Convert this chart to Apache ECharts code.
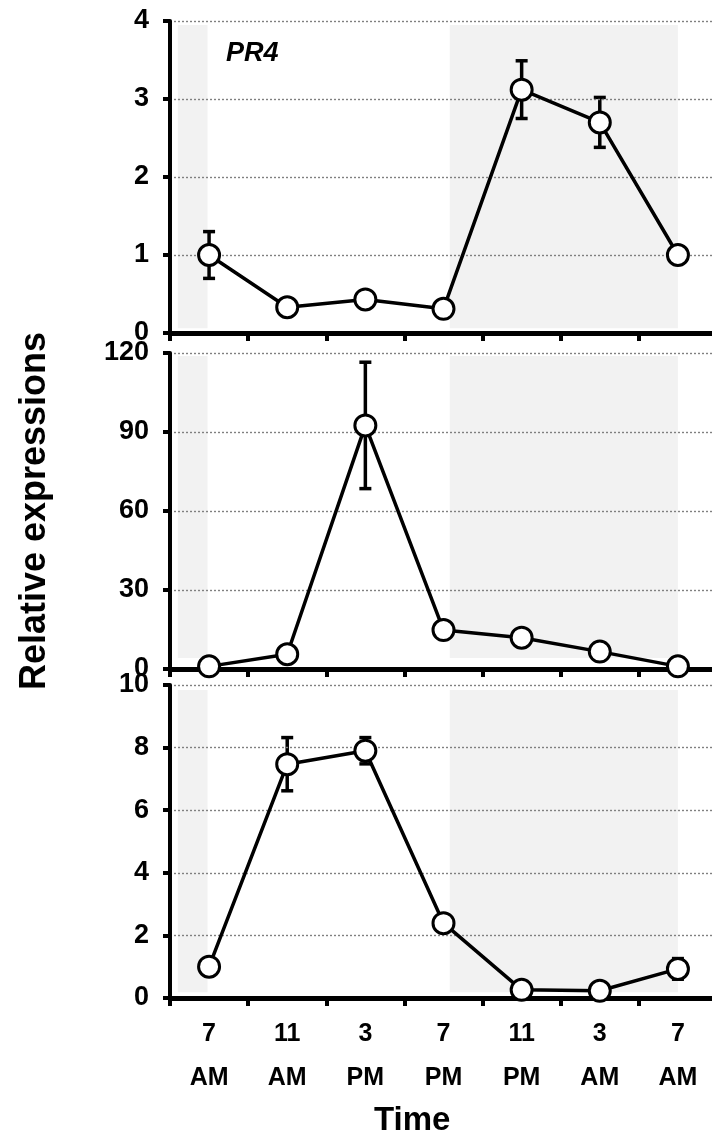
<!DOCTYPE html>
<html>
<head>
<meta charset="utf-8">
<script src="https://cdn.jsdelivr.net/npm/echarts@6/dist/echarts.min.js"></script>
<style>
  html, body { margin: 0; padding: 0; background: #fff; }
  #chart { width: 712px; height: 1142px; }
</style>
</head>
<body>
<div id="chart"></div>
<script>
// time points on the x axis
const timeLabels = ['7\nAM', '11\nAM', '3\nPM', '7\nPM', '11\nPM', '3\nAM', '7\nAM']

// gene names, one per panel
const genes = ['PR4', 'VSP2', 'RAB18']

// mean relative expression, one array per gene
const pr4Mean = [1.0, 0.33, 0.43, 0.31, 3.12, 2.70, 1.0]
const vsp2Mean = [1.0, 5.6, 92.5, 14.8, 11.9, 6.6, 1.0]
const rab18Mean = [1.0, 7.47, 7.9, 2.39, 0.26, 0.23, 0.93]

// error (+/-), 0 where no bar is drawn
const pr4Err = [0.3, 0, 0, 0, 0.37, 0.32, 0]
const vsp2Err = [0, 0, 24, 0, 0, 0, 0]
const rab18Err = [0, 0.85, 0.42, 0, 0, 0, 0.33]

// y axis ranges and steps
const yMax = [4, 120, 10]
const yStep = [1, 30, 2]

// dark periods, in units of time slots (0..7)
const darkSpans = [[0.1, 0.48], [3.58, 6.5]]
// vertical extent of the shading per panel [bottom, top]
const darkY = [[0.06, 3.95], [4.2, 118.9], [0.18, 9.84]]

const means = [pr4Mean, vsp2Mean, rab18Mean]
const errs = [pr4Err, vsp2Err, rab18Err]

const FONT = 'Liberation Sans, Arial, sans-serif'
const grids = [
  { left: 170, top: 21, width: 547, height: 312, outerBoundsMode: 'none' },
  { left: 170, top: 353, width: 547, height: 316, outerBoundsMode: 'none' },
  { left: 170, top: 685, width: 547, height: 313, outerBoundsMode: 'none' }
]

let xAxis = []
let yAxis = []
let series = []

genes.forEach((g, i) => {
  let last = i === genes.length - 1
  xAxis.push({
    type: 'category',
    gridIndex: i,
    data: timeLabels,
    boundaryGap: true,
    axisLine: { lineStyle: { color: '#000', width: 5 } },
    axisTick: { show: true, length: 8, lineStyle: { color: '#000', width: 4 } },
    axisLabel: {
      show: last,
      color: '#000',
      fontFamily: FONT,
      fontWeight: 'bold',
      fontSize: 25,
      lineHeight: 44,
      margin: 14
    },
    splitLine: { show: false },
    z: 5
  })
  xAxis.push({
    type: 'value',
    gridIndex: i,
    min: 0,
    max: 7,
    show: false
  })
  yAxis.push({
    type: 'value',
    gridIndex: i,
    min: 0,
    max: yMax[i],
    interval: yStep[i],
    name: i === 1 ? 'Relative expressions' : '',
    nameLocation: 'middle',
    nameRotate: 90,
    nameGap: 117,
    nameTextStyle: { color: '#000', fontFamily: FONT, fontWeight: 'bold', fontSize: 36 },
    axisLine: { show: true, lineStyle: { color: '#000', width: 4 } },
    axisTick: { show: true, length: 7, lineStyle: { color: '#000', width: 4 } },
    axisLabel: { color: '#000', fontFamily: FONT, fontWeight: 'bold', fontSize: 27, margin: 21 },
    splitLine: { show: true, lineStyle: { color: '#808080', width: 1.4, type: [2, 2] } },
    z: 5
  })

  // grey shading for the dark period
  series.push({
    type: 'custom',
    xAxisIndex: i * 2 + 1,
    yAxisIndex: i,
    silent: true,
    z: 0,
    data: darkSpans.map(s => [s[0], darkY[i][0], s[1], darkY[i][1]]),
    encode: { x: [0, 2], y: [1, 3] },
    renderItem (params, api) {
      let p0 = api.coord([api.value(0), api.value(3)])
      let p1 = api.coord([api.value(2), api.value(1)])
      return {
        type: 'rect',
        shape: { x: p0[0], y: p0[1], width: p1[0] - p0[0], height: p1[1] - p0[1] },
        style: { fill: '#f2f2f2' }
      }
    }
  })

  // error bars
  let barData = []
  means[i].forEach((m, k) => {
    if (errs[i][k] > 0) barData.push([k, m - errs[i][k], m + errs[i][k]])
  })
  series.push({
    type: 'custom',
    xAxisIndex: i * 2,
    yAxisIndex: i,
    silent: true,
    z: 3,
    data: barData,
    encode: { x: 0, y: [1, 2] },
    renderItem (params, api) {
      let lo = api.coord([api.value(0), api.value(1)])
      let hi = api.coord([api.value(0), api.value(2)])
      let w = 6
      let st = { stroke: '#000', lineWidth: 3.5 }
      return {
        type: 'group',
        children: [
          { type: 'line', shape: { x1: hi[0], y1: hi[1], x2: lo[0], y2: lo[1] }, style: st },
          { type: 'line', shape: { x1: hi[0] - w, y1: hi[1], x2: hi[0] + w, y2: hi[1] }, style: st },
          { type: 'line', shape: { x1: lo[0] - w, y1: lo[1], x2: lo[0] + w, y2: lo[1] }, style: st }
        ]
      }
    }
  })

  // mean line with open circles
  series.push({
    type: 'line',
    name: g,
    xAxisIndex: i * 2,
    yAxisIndex: i,
    data: means[i],
    clip: false,
    z: 10,
    symbol: 'circle',
    symbolSize: 21,
    lineStyle: { color: '#000', width: 3.5 },
    itemStyle: { color: '#fff', borderColor: '#000', borderWidth: 3 }
  })
})

const titleStyle = { fill: '#000', font: 'italic bold 27px ' + FONT }

let option = {
  animation: false,
  backgroundColor: '#fff',
  grid: grids,
  xAxis: xAxis,
  yAxis: yAxis,
  series: series,
  graphic: [
    { type: 'text', left: 226, top: 40, style: Object.assign({ text: genes[0] }, titleStyle) },
    { type: 'text', left: 544, top: 370, style: Object.assign({ text: genes[1] }, titleStyle) },
    { type: 'text', left: 544, top: 702, style: Object.assign({ text: genes[2] }, titleStyle) },
    {
      type: 'text', left: 374, top: 1104,
      style: { text: 'Time', fill: '#000', font: 'bold 33px ' + FONT }
    }
  ]
}

let chart = echarts.init(document.getElementById('chart'))
chart.setOption(option)
</script>
</body>
</html>
